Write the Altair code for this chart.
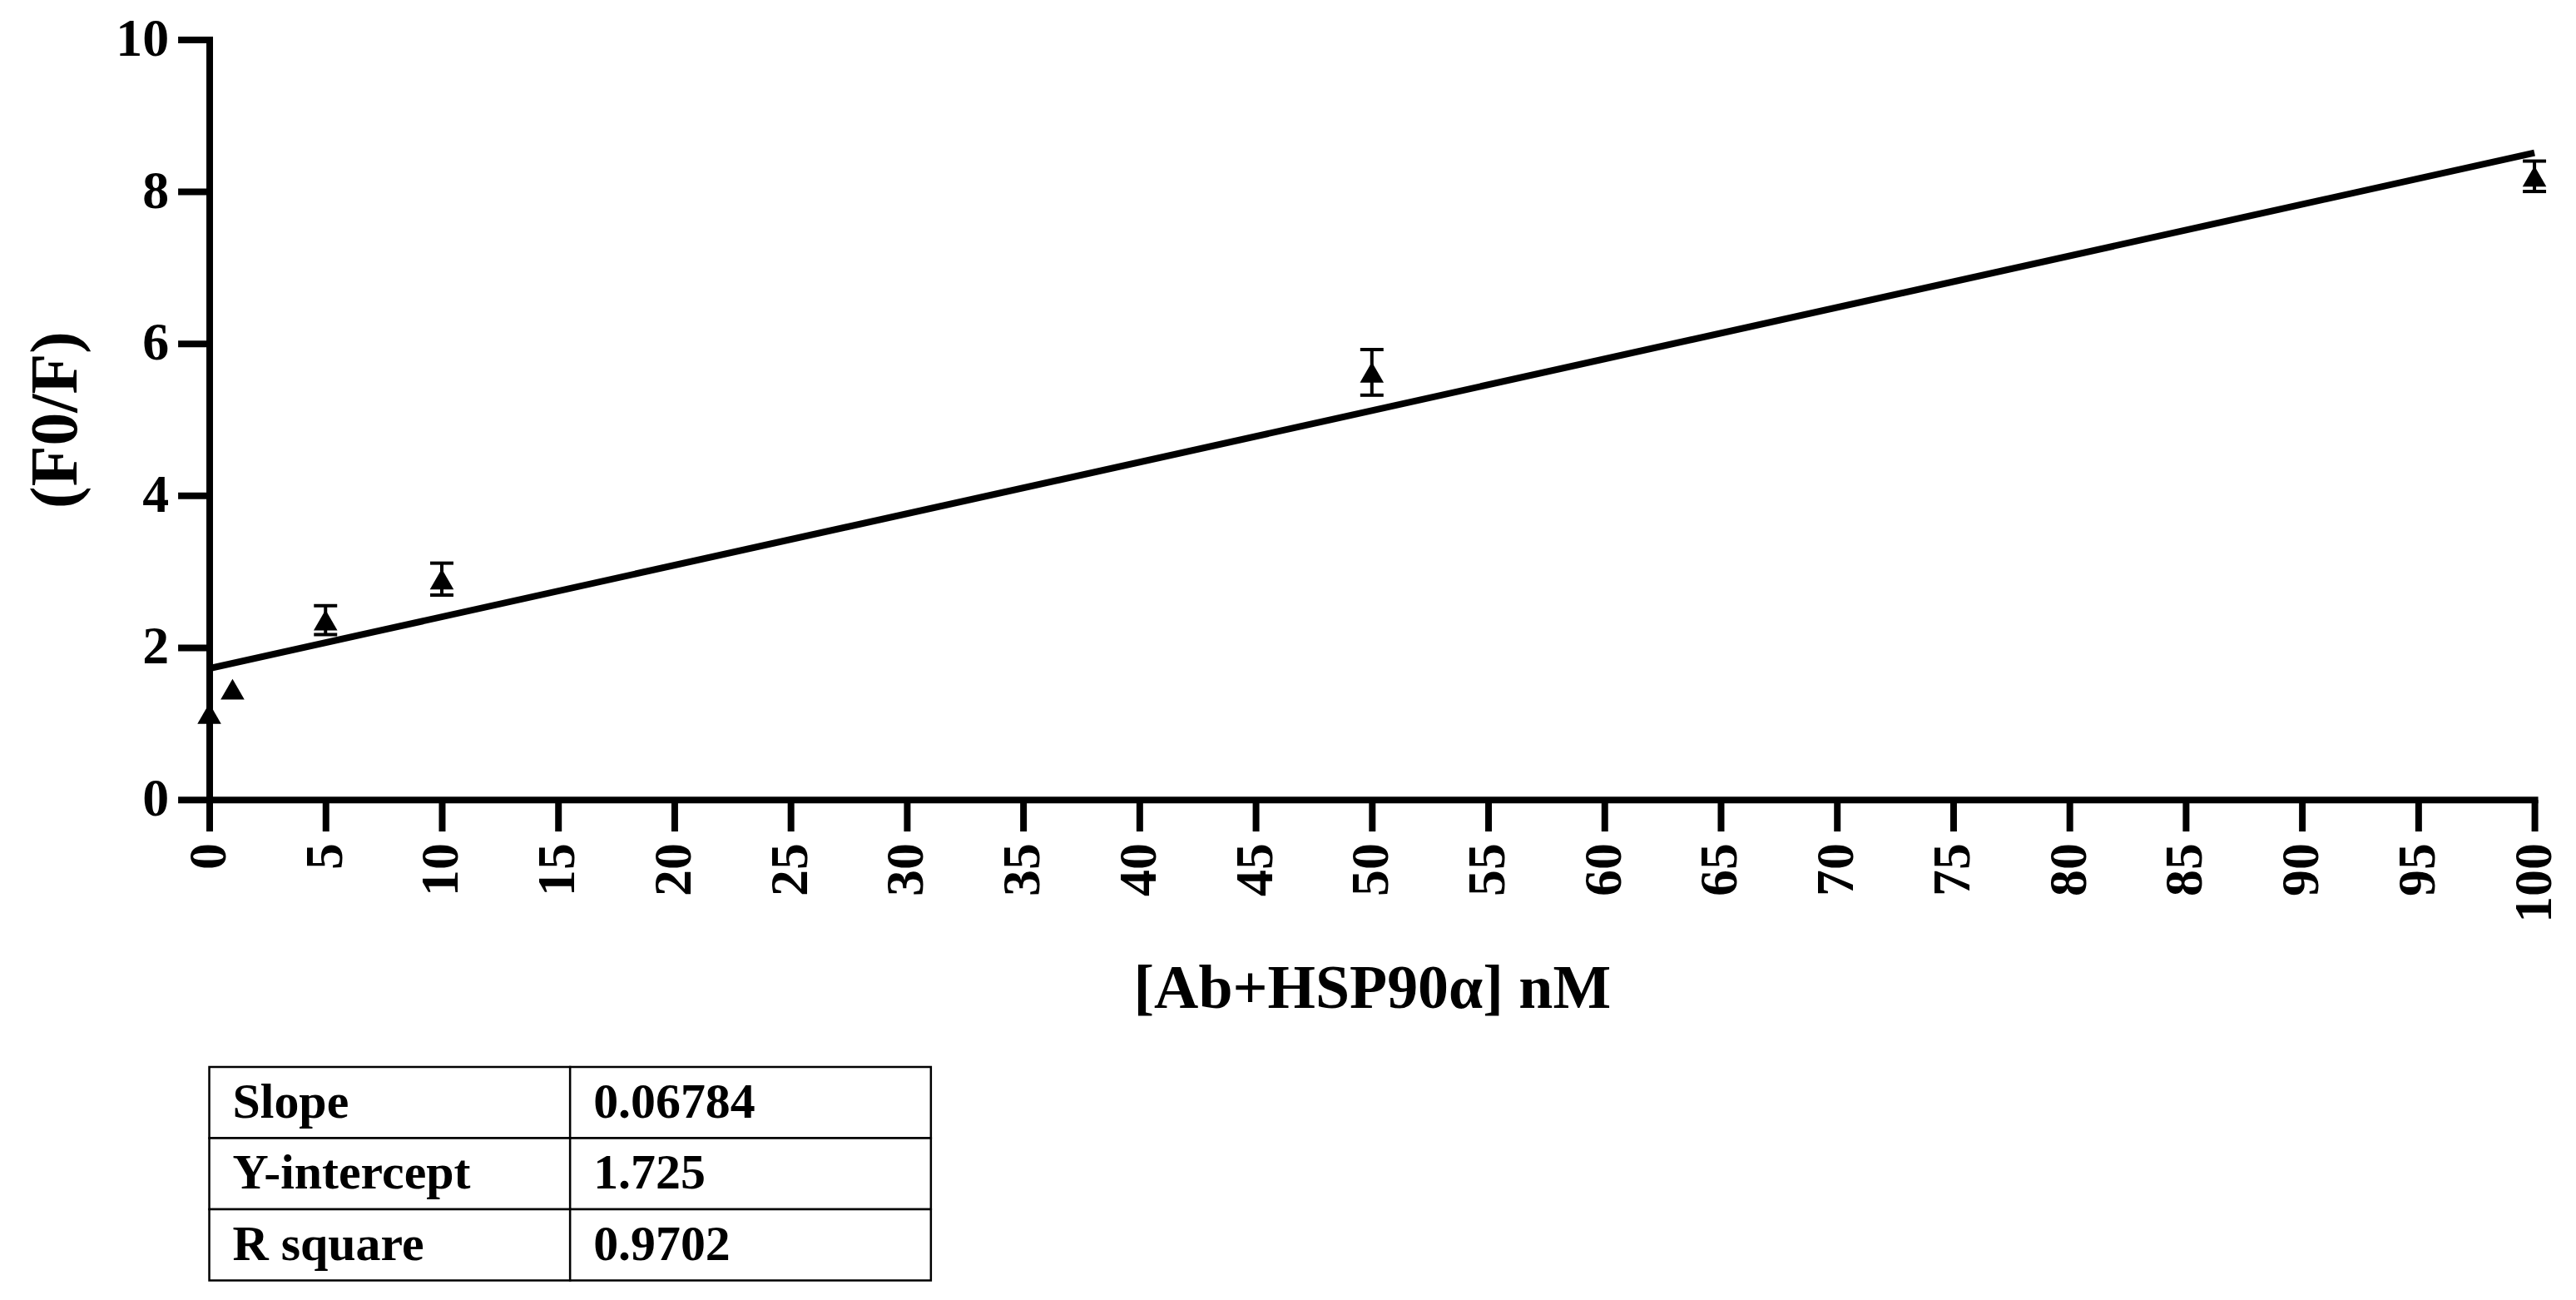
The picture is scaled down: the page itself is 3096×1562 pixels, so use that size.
import altair as alt
import pandas as pd

# ---- data ----
conc = [0, 1, 5, 10, 50, 100]
ratio = [1.13, 1.45, 2.36, 2.90, 5.62, 8.20]
err = [0.0, 0.0, 0.19, 0.21, 0.30, 0.20]

slope = 0.06784
intercept = 1.725
fit_x = [0, 100]

x_ticks = list(range(0, 101, 5))
y_ticks = [0, 2, 4, 6, 8, 10]

table_labels = ["Slope", "Y-intercept", "R square"]
table_values = ["0.06784", "1.725", "0.9702"]

FONT = "Liberation Serif"

pts = pd.DataFrame({"x": conc, "y": ratio, "err": err})
pts["lo"] = pts["y"] - pts["err"]
pts["hi"] = pts["y"] + pts["err"]
fit = pd.DataFrame({"x": fit_x, "y": [intercept + slope * v for v in fit_x]})

xscale = alt.Scale(domain=[0, 100], nice=False, zero=False)
yscale = alt.Scale(domain=[0, 10], nice=False, zero=False)

common_axis = dict(
    tickSize=38, tickWidth=8, domainWidth=8, domainColor="black", tickColor="black",
    labelFont=FONT, labelFontSize=64, labelFontWeight="bold", labelColor="black",
    titleFont=FONT, titleFontWeight="bold", titleColor="black",
    grid=False, labelOverlap=False, labelFlush=False, domainCap="square", format="d",
)
xaxis = alt.Axis(values=x_ticks, title="[Ab+HSP90α] nM", labelAngle=270,
                 labelPadding=14, titleFontSize=74, titlePadding=44, **common_axis)
yaxis = alt.Axis(values=y_ticks, title="(F0/F)", labelPadding=11,
                 titleFontSize=80, titlePadding=30, **common_axis)

X = alt.X("x:Q", scale=xscale, axis=xaxis)
Y = alt.Y("y:Q", scale=yscale, axis=yaxis)

base = alt.Chart(pts)
eb = base.transform_filter("datum.err > 0")
stems = eb.mark_rule(color="black", strokeWidth=4).encode(
    x=alt.X("x:Q", scale=xscale), y=alt.Y("lo:Q", scale=yscale), y2="hi:Q")
caps_hi = eb.mark_tick(orient="horizontal", size=28, thickness=4, color="black", opacity=1).encode(
    x=alt.X("x:Q", scale=xscale), y=alt.Y("hi:Q", scale=yscale))
caps_lo = eb.mark_tick(orient="horizontal", size=28, thickness=4, color="black", opacity=1).encode(
    x=alt.X("x:Q", scale=xscale), y=alt.Y("lo:Q", scale=yscale))
points = base.mark_point(shape="triangle-up", filled=True, size=820, color="black", opacity=1).encode(x=X, y=Y)
line = alt.Chart(fit).mark_line(color="black", strokeWidth=8).encode(
    x=alt.X("x:Q", scale=xscale), y=alt.Y("y:Q", scale=yscale))

main = alt.layer(stems, caps_hi, caps_lo, points, line).properties(width=2800, height=915)

# ---- statistics table ----
rows = []
for i, (lab, val) in enumerate(zip(table_labels, table_values)):
    rows.append({"row": i, "col": 0, "text": lab})
    rows.append({"row": i, "col": 1, "text": val})
tbl = pd.DataFrame(rows)
tbl["row2"] = tbl["row"] + 1
tbl["col2"] = tbl["col"] + 1
tbl["mid"] = tbl["row"] + 0.5

tx = alt.Scale(domain=[0, 2], nice=False, zero=False)
ty = alt.Scale(domain=[0, 3], nice=False, zero=False, reverse=True)
tb = alt.Chart(tbl)
cells = tb.mark_rect(fill="white", stroke="black", strokeWidth=2.5).encode(
    x=alt.X("col:Q", scale=tx, axis=None), x2="col2:Q",
    y=alt.Y("row:Q", scale=ty, axis=None), y2="row2:Q")
texts = tb.mark_text(align="left", baseline="middle", dx=28, font=FONT, fontSize=60,
                     fontWeight="bold", color="black").encode(
    x=alt.X("col:Q", scale=tx, axis=None), y=alt.Y("mid:Q", scale=ty, axis=None), text="text:N")
table = alt.layer(cells, texts).properties(width=869, height=257)

chart = alt.vconcat(main, table, spacing=322, bounds="flush").properties(
    padding={"left": 20, "top": 6, "right": 10, "bottom": 5},
    background="white",
).configure_view(stroke=None)

chart.save("out.html", embed_options={"renderer": "svg", "actions": False})
